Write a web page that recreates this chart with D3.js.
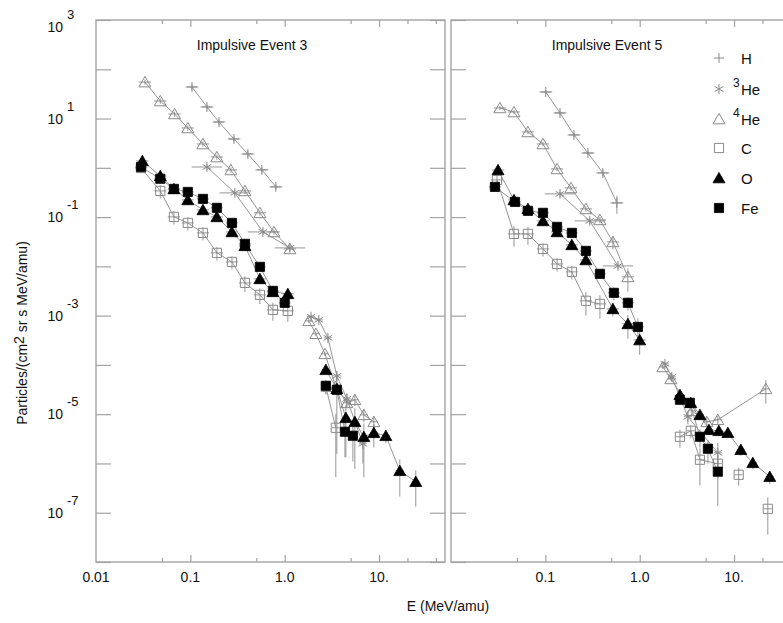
<!DOCTYPE html>
<html>
<head>
<meta charset="utf-8">
<script src="https://cdn.jsdelivr.net/npm/d3@7"></script>
<style>
  body { margin: 0; background: #fff; }
  svg { display: block; font-family: "Liberation Sans", Arial, Helvetica, sans-serif; }
</style>
</head>
<body>
<svg id="chart" width="783" height="623"></svg>
<script>
// ---------------- Axis setup ----------------
const energyDomain = [0.01, 50];          // MeV/amu
const fluxDomain = [1e-8, 1e3];           // particles/(cm2 sr s MeV/amu)
const xMajorTicks = [0.1, 1, 10];
const xMinorTicks = [0.05, 0.5, 5, 20, 40];
const xTickLabelsLeft = [[0.01, "0.01"], [0.1, "0.1"], [1, "1.0"], [10, "10."]];
const xTickLabelsRight = [[0.1, "0.1"], [1, "1.0"], [10, "10."]];
const yDecades = d3.range(-8, 4);
const yLabelExponents = [3, 1, -1, -3, -5, -7];

// ---------------- Species ----------------
const speciesNames = ["H", "3He", "4He", "C", "O", "Fe"];
// relative half-width of the energy bins (multiplicative)
const binLow = { H: 1.17, "3He": 1.45, "4He": 1.16, C: 1.16, O: 1.16, Fe: 1.16 };
const binHigh = 1.1;

// ---------------- Impulsive Event 3 ----------------
const e3_H_E = [0.104, 0.150, 0.201, 0.290, 0.407, 0.573, 0.807];
const e3_H_F = [43.7, 17.2, 8.5, 3.85, 1.91, 0.91, 0.41];

const e3_3He_lo_E = [0.150, 0.296, 0.588, 1.135];
const e3_3He_lo_F = [1.04, 0.31, 0.050, 0.0237];
const e3_3He_hi_E = [1.90, 2.30, 2.87, 3.57, 4.56, 6.74];
const e3_3He_hi_F = [9.5e-4, 8.2e-4, 3.55e-4, 6.0e-5, 2.05e-5, 2.5e-6];
const e3_3He_hi_err = [0.1, 0.1, 0.1, 0.2, 0.3, 0.6];

const e3_4He_lo_E = [0.033, 0.048, 0.068, 0.094, 0.136, 0.191, 0.269, 0.379, 0.546, 0.769, 1.135];
const e3_4He_lo_F = [55, 22.7, 12.4, 6.44, 3.05, 1.66, 0.906, 0.340, 0.122, 0.050, 0.0226];
const e3_4He_hi_E = [1.80, 2.14, 2.67, 3.48, 4.56, 5.54, 6.90, 8.81];
const e3_4He_hi_F = [7.85e-4, 4.3e-4, 1.68e-4, 3.6e-5, 1.7e-5, 1.96e-5, 9.7e-6, 7.0e-6];
const e3_4He_hi_err = [0.1, 0.1, 0.1, 0.15, 0.2, 0.25, 0.3, 0.3];

const e3_C_lo_E = [0.030, 0.048, 0.067, 0.094, 0.136, 0.191, 0.276, 0.379, 0.546, 0.750, 1.08];
const e3_C_lo_F = [0.99, 0.340, 0.101, 0.0762, 0.0478, 0.0188, 0.0123, 0.00462, 0.00264, 0.00131, 0.00125];
const e3_C_lo_err = [0.2, 0.3, 0.3, 0.3, 0.3, 0.3, 0.3, 0.35, 0.35, 0.4, 0.4];
const e3_C_hi_E = [2.73, 3.48];
const e3_C_hi_F = [3.6e-5, 5.3e-6];
const e3_C_hi_err = [0.3, 0.9];

const e3_O_lo_E = [0.031, 0.048, 0.067, 0.094, 0.136, 0.191, 0.276, 0.379, 0.546, 0.750, 1.08];
const e3_O_lo_F = [1.38, 0.685, 0.373, 0.223, 0.140, 0.101, 0.050, 0.0261, 0.00557, 0.00304, 0.00277];
const e3_O_hi_E = [2.73, 3.57, 4.45, 5.54, 6.90, 8.81, 11.8, 16.6, 24.5];
const e3_O_hi_F = [7.96e-5, 3.27e-5, 8.45e-6, 7.0e-6, 3.48e-6, 4.2e-6, 3.65e-6, 7.1e-7, 4.26e-7];
const e3_O_hi_err = [0.15, 0.2, 0.84, 0.89, 0.85, 0.5, 0.3, 0.7, 0.69];

const e3_Fe_lo_E = [0.030, 0.048, 0.067, 0.094, 0.136, 0.191, 0.276, 0.379, 0.546, 0.750, 1.00];
const e3_Fe_lo_F = [1.04, 0.60, 0.373, 0.324, 0.234, 0.154, 0.0762, 0.0286, 0.00977, 0.00318, 0.00182];
const e3_Fe_hi_E = [2.73, 3.57, 4.35, 5.28];
const e3_Fe_hi_F = [3.77e-5, 3.13e-5, 4.4e-6, 3.65e-6];
const e3_Fe_hi_err = [0.3, 0.95, 0.7, 0.7];

// ---------------- Impulsive Event 5 ----------------
const e5_H_E = [0.101, 0.143, 0.201, 0.283, 0.407, 0.573];
const e5_H_F = [34.6, 13.0, 4.65, 2.00, 0.788, 0.194];
const e5_H_err = [0.1, 0.1, 0.1, 0.1, 0.15, 0.4];

const e5_3He_lo_E = [0.143, 0.296, 0.588];
const e5_3He_lo_F = [0.296, 0.0837, 0.0102];
const e5_3He_hi_E = [1.85, 2.19, 3.24, 6.73];
const e5_3He_hi_F = [1.05e-4, 5.74e-5, 8.85e-6, 1.65e-6];
const e5_3He_hi_err = [0.1, 0.1, 0.3, 0.6];

const e5_4He_lo_E = [0.033, 0.0465, 0.0654, 0.0944, 0.133, 0.187, 0.269, 0.379, 0.520, 0.750];
const e5_4He_lo_F = [16.4, 13.6, 5.35, 3.05, 0.95, 0.391, 0.147, 0.0877, 0.0314, 0.00612];
const e5_4He_lo_err = [0.1, 0.1, 0.1, 0.1, 0.1, 0.12, 0.12, 0.15, 0.3, 0.5];
const e5_4He_hi_E = [1.76, 2.14, 3.57, 5.15, 6.73, 21.7];
const e5_4He_hi_F = [9.1e-5, 5.2e-5, 1.17e-5, 7.0e-6, 7.7e-6, 3.27e-5];
const e5_4He_hi_err = [0.1, 0.1, 0.2, 0.2, 0.2, 0.5];

const e5_C_lo_E = [0.0307, 0.0465, 0.0654, 0.0944, 0.133, 0.191, 0.269, 0.379];
const e5_C_lo_F = [0.569, 0.0456, 0.0456, 0.0226, 0.0112, 0.00773, 0.0020, 0.00173];
const e5_C_lo_err = [0.3, 0.45, 0.4, 0.3, 0.3, 0.3, 0.5, 0.5];
const e5_C_hi_E = [2.67, 3.48, 4.35, 6.73];
const e5_C_hi_F = [3.48e-6, 4.6e-6, 1.19e-6, 9.9e-7];
const e5_C_hi_err = [0.4, 0.3, 0.7, 0.5];
const e5_C_single_E = [11.2, 22.8];
const e5_C_single_F = [5.9e-7, 1.2e-7];
const e5_C_single_err = [0.4, 0.7];

const e5_O_lo_E = [0.0315, 0.0465, 0.0654, 0.0944, 0.133, 0.191, 0.269, 0.520, 0.750, 1.00];
const e5_O_lo_F = [0.906, 0.223, 0.147, 0.0837, 0.050, 0.0273, 0.0135, 0.00137, 6.8e-4, 3.2e-4];
const e5_O_lo_err = [0.1, 0.1, 0.1, 0.1, 0.1, 0.1, 0.12, 0.3, 0.5, 0.5];
const e5_O_hi_E = [2.67, 3.48, 4.35, 5.41, 6.90, 8.60, 11.8, 15.8, 23.9];
const e5_O_hi_F = [2.48e-5, 1.70e-5, 9.7e-6, 4.83e-6, 4.6e-6, 4.2e-6, 1.90e-6, 1.03e-6, 5.4e-7];
const e5_O_hi_err = [0.15, 0.15, 0.2, 0.2, 0.2, 0.2, 0.25, 0.25, 0.3];

const e5_Fe_lo_E = [0.0292, 0.0477, 0.0654, 0.0944, 0.133, 0.191, 0.269, 0.379, 0.533, 0.750, 0.957];
const e5_Fe_lo_F = [0.41, 0.203, 0.134, 0.122, 0.0633, 0.0478, 0.0206, 0.00705, 0.0029, 0.00182, 5.9e-4];
const e5_Fe_lo_err = [0.1, 0.1, 0.1, 0.1, 0.1, 0.1, 0.12, 0.15, 0.3, 0.3, 0.5];
const e5_Fe_hi_E = [2.67, 3.40, 4.35, 5.28, 6.73];
const e5_Fe_hi_F = [1.96e-5, 1.70e-5, 3.48e-6, 1.99e-6, 6.8e-7];
const e5_Fe_hi_err = [0.15, 0.15, 0.4, 0.5, 0.8];

// ---------------- Series tables ----------------
function seg(sp, E, F, err, bin, joined = true) {
  return { sp, bin, joined, pts: E.map((e, i) => ({ E: e, F: F[i], s: err ? err[i] : 0.12 })) };
}
const event3 = [
  seg("H", e3_H_E, e3_H_F, null, binLow.H),
  seg("3He", e3_3He_lo_E, e3_3He_lo_F, null, binLow["3He"]),
  seg("3He", e3_3He_hi_E, e3_3He_hi_F, e3_3He_hi_err, binHigh),
  seg("4He", e3_4He_lo_E, e3_4He_lo_F, null, binLow["4He"]),
  seg("4He", e3_4He_hi_E, e3_4He_hi_F, e3_4He_hi_err, binHigh),
  seg("C", e3_C_lo_E, e3_C_lo_F, e3_C_lo_err, binLow.C),
  seg("C", e3_C_hi_E, e3_C_hi_F, e3_C_hi_err, binHigh),
  seg("O", e3_O_lo_E, e3_O_lo_F, null, binLow.O),
  seg("O", e3_O_hi_E, e3_O_hi_F, e3_O_hi_err, binHigh),
  seg("Fe", e3_Fe_lo_E, e3_Fe_lo_F, null, binLow.Fe),
  seg("Fe", e3_Fe_hi_E, e3_Fe_hi_F, e3_Fe_hi_err, binHigh)
];
const event5 = [
  seg("H", e5_H_E, e5_H_F, e5_H_err, binLow.H),
  seg("3He", e5_3He_lo_E, e5_3He_lo_F, null, binLow["3He"]),
  seg("3He", e5_3He_hi_E, e5_3He_hi_F, e5_3He_hi_err, binHigh),
  seg("4He", e5_4He_lo_E, e5_4He_lo_F, e5_4He_lo_err, binLow["4He"]),
  seg("4He", e5_4He_hi_E, e5_4He_hi_F, e5_4He_hi_err, binHigh),
  seg("C", e5_C_lo_E, e5_C_lo_F, e5_C_lo_err, binLow.C),
  seg("C", e5_C_hi_E, e5_C_hi_F, e5_C_hi_err, binHigh),
  seg("C", e5_C_single_E, e5_C_single_F, e5_C_single_err, binHigh, false),
  seg("O", e5_O_lo_E, e5_O_lo_F, e5_O_lo_err, binLow.O),
  seg("O", e5_O_hi_E, e5_O_hi_F, e5_O_hi_err, binHigh),
  seg("Fe", e5_Fe_lo_E, e5_Fe_lo_F, e5_Fe_lo_err, binLow.Fe),
  seg("Fe", e5_Fe_hi_E, e5_Fe_hi_F, e5_Fe_hi_err, binHigh)
];

// ---------------- Drawing ----------------
const GRAY = "#8a8a8a";
const FRAME = "#a3a3a3";
const INK = "#111";
const svg = d3.select("#chart");
const yTop = 20, yBot = 562;
const y = d3.scaleLog().domain(fluxDomain).range([yBot, yTop]);

const markerStyle = {
  H:     { shape: "plus",     fill: "none", stroke: GRAY },
  "3He": { shape: "asterisk", fill: "none", stroke: GRAY },
  "4He": { shape: "triangle", fill: "#fff", stroke: GRAY },
  C:     { shape: "square",   fill: "none", stroke: GRAY },
  O:     { shape: "triangle", fill: "#000", stroke: "#000" },
  Fe:    { shape: "square",   fill: "#000", stroke: "#000" }
};
function markerPath(shape) {
  switch (shape) {
    case "plus": return "M-5,0H5M0,-5V5";
    case "asterisk": return "M0,-5V5M-4.3,-2.5L4.3,2.5M-4.3,2.5L4.3,-2.5";
    case "triangle": return "M0,-5.6L6,4.8L-6,4.8Z";
    case "square": return "M-4.6,-4.6H4.6V4.6H-4.6Z";
  }
}

function drawPanel(x, data, title, withYLabels, xLabels) {
  const [x0, x1] = x.range();
  const g = svg.append("g");

  // frame
  g.append("rect").attr("x", x0).attr("y", yTop).attr("width", x1 - x0).attr("height", yBot - yTop)
    .attr("fill", "none").attr("stroke", FRAME).attr("stroke-width", 1.4);

  // y ticks on both sides, pointing inward
  const yAxisL = d3.axisRight(y).tickValues(yDecades.map(d => Math.pow(10, d))).tickSize(15).tickFormat("");
  const yAxisR = d3.axisLeft(y).tickValues(yDecades.map(d => Math.pow(10, d))).tickSize(15).tickFormat("");
  [g.append("g").attr("transform", `translate(${x0},0)`).call(yAxisL),
   g.append("g").attr("transform", `translate(${x1},0)`).call(yAxisR)].forEach(a => {
    a.select(".domain").remove();
    a.selectAll("line").attr("stroke", FRAME).attr("stroke-width", 1.2);
  });

  // x ticks on bottom and top, pointing inward
  const xt = (vals, len, orient, ty) => {
    const ax = (orient === "bottom" ? d3.axisTop(x) : d3.axisBottom(x)).tickValues(vals).tickSize(len).tickFormat("");
    const a = g.append("g").attr("transform", `translate(0,${ty})`).call(ax);
    a.select(".domain").remove();
    a.selectAll("line").attr("stroke", FRAME).attr("stroke-width", 1.2);
  };
  xt(xMajorTicks, 7, "bottom", yBot); xt(xMinorTicks, 4, "bottom", yBot);
  xt(xMajorTicks, 7, "top", yTop); xt(xMinorTicks, 4, "top", yTop);

  // x tick labels
  g.selectAll("text.xl").data(xLabels).join("text")
    .attr("x", d => x(d[0])).attr("y", 582).attr("text-anchor", "middle")
    .attr("font-size", 14).attr("fill", INK).text(d => d[1]);

  // y tick labels: 10 with superscript exponent
  if (withYLabels) {
    yLabelExponents.forEach(p => {
      const ty = Math.max(y(Math.pow(10, p)), yTop + 7);
      g.append("text").attr("x", 63).attr("y", ty + 5).attr("text-anchor", "end")
        .attr("font-size", 14).attr("fill", INK).text("10");
      g.append("text").attr("x", 67).attr("y", ty - 8).attr("text-anchor", "start")
        .attr("font-size", 13).attr("fill", INK).text(String(p).replace("-", "-"));
    });
  }

  // panel title
  g.append("text").attr("x", x0 + 156).attr("y", 50).attr("text-anchor", "middle")
    .attr("font-size", 14).attr("fill", INK).text(title);

  const line = d3.line().x(d => x(d.E)).y(d => y(d.F));

  // connecting lines
  data.filter(s => s.joined && s.pts.length > 1).forEach(s => {
    g.append("path").attr("d", line(s.pts)).attr("fill", "none")
      .attr("stroke", GRAY).attr("stroke-width", 0.9);
  });

  // error bars
  data.forEach(s => {
    s.pts.forEach(p => {
      g.append("line").attr("x1", x(p.E / s.bin)).attr("x2", x(p.E * s.bin))
        .attr("y1", y(p.F)).attr("y2", y(p.F)).attr("stroke", GRAY).attr("stroke-width", 0.9);
      g.append("line").attr("x1", x(p.E)).attr("x2", x(p.E))
        .attr("y1", y(p.F * (1 + p.s))).attr("y2", y(p.F * Math.max(1 - p.s, 0.02)))
        .attr("stroke", GRAY).attr("stroke-width", 0.9);
    });
  });

  // markers, drawn species by species
  speciesNames.forEach(sp => {
    const st = markerStyle[sp];
    data.filter(s => s.sp === sp).forEach(s => {
      g.selectAll(null).data(s.pts).join("path")
        .attr("transform", d => `translate(${x(d.E)},${y(d.F)})`)
        .attr("d", markerPath(st.shape))
        .attr("fill", st.fill === "#fff" ? "none" : st.fill)
        .attr("stroke", st.stroke).attr("stroke-width", st.fill === "#000" ? 0.8 : 1);
    });
  });
}

const xLeft = d3.scaleLog().domain(energyDomain).range([96, 445]);
const xRight = d3.scaleLog().domain(energyDomain).range([451, 800]);
drawPanel(xLeft, event3, "Impulsive Event 3", true, xTickLabelsLeft);
drawPanel(xRight, event5, "Impulsive Event 5", false, xTickLabelsRight);

// legend
const legendRows = [
  { sp: "H", sup: "", name: "H" },
  { sp: "3He", sup: "3", name: "He" },
  { sp: "4He", sup: "4", name: "He" },
  { sp: "C", sup: "", name: "C" },
  { sp: "O", sup: "", name: "O" },
  { sp: "Fe", sup: "", name: "Fe" }
];
const legendY = [58, 89, 119, 148, 178, 208];
const lg = svg.append("g");
legendRows.forEach((r, i) => {
  const st = markerStyle[r.sp];
  const ly = legendY[i];
  lg.append("path").attr("transform", `translate(719,${ly})`).attr("d", markerPath(st.shape))
    .attr("fill", st.fill === "#fff" ? "none" : st.fill)
    .attr("stroke", st.stroke).attr("stroke-width", st.fill === "#000" ? 0.8 : 1);
  if (r.sup) lg.append("text").attr("x", 733).attr("y", ly - 2).attr("font-size", 12).attr("fill", INK).text(r.sup);
  lg.append("text").attr("x", 741).attr("y", ly + 6).attr("font-size", 15).attr("fill", INK).text(r.name);
});

// axis titles
svg.append("text").attr("x", 448).attr("y", 611).attr("text-anchor", "middle")
  .attr("font-size", 14).attr("fill", INK).text("E (MeV/amu)");
const yt = svg.append("text").attr("transform", "translate(27,333) rotate(-90)")
  .attr("text-anchor", "middle").attr("font-size", 14).attr("fill", INK);
yt.append("tspan").text("Particles/(cm");
yt.append("tspan").attr("dy", -3).text("2");
yt.append("tspan").attr("dy", 3).text(" sr s MeV/amu)");
</script>
</body>
</html>
